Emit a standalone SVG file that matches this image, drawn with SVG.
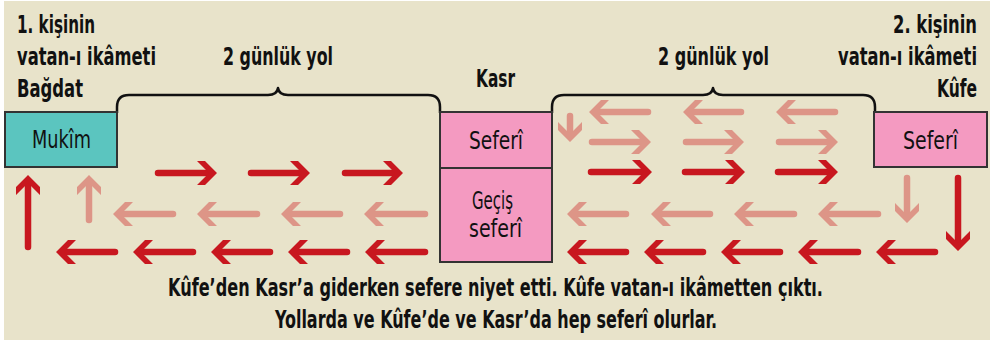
<svg xmlns="http://www.w3.org/2000/svg" xmlns:xlink="http://www.w3.org/1999/xlink" width="990" height="340" viewBox="0 0 990 340">
<style>
  text{font-family:"Liberation Sans Narrow","DejaVu Sans Condensed","Roboto","Liberation Sans",sans-serif;fill:#111;}
  .lb{font-size:25px;font-weight:bold;}
  .bx{font-size:25px;}
  .end{text-anchor:end;}
  .node rect{stroke:#333;stroke-width:2;}
  .brace{fill:none;stroke:#111;stroke-width:2.5;stroke-linejoin:round;}
  .r{fill:#C8171F;stroke:#C8171F;}
  .p{fill:#DD9587;stroke:#DD9587;}
  line.r,line.p{stroke-width:6.5;stroke-linecap:round;}
</style>
<defs>
  <polygon id="hd" points="0,0 -12,-12 -20,-12 -8,0 -20,12 -12,12" stroke="none"/>
</defs>
<rect width="990" height="340" fill="#ffffff"/>
<rect x="4" y="1" width="986" height="339" fill="#E8E3CA"/>

<g id="label-bagdat">
  <text class="lb" x="17" y="33" textLength="78" lengthAdjust="spacingAndGlyphs">1. kişinin</text>
  <text class="lb" x="17" y="65" textLength="139" lengthAdjust="spacingAndGlyphs">vatan-ı ikâmeti</text>
  <text class="lb" x="17" y="97" textLength="66" lengthAdjust="spacingAndGlyphs">Bağdat</text>
</g>
<g id="label-kufe">
  <text class="lb end" x="977" y="33" textLength="84" lengthAdjust="spacingAndGlyphs">2. kişinin</text>
  <text class="lb end" x="977" y="65" textLength="139" lengthAdjust="spacingAndGlyphs">vatan-ı ikâmeti</text>
  <text class="lb end" x="977" y="97" textLength="40" lengthAdjust="spacingAndGlyphs">Kûfe</text>
</g>
<g id="label-kasr">
  <text class="lb" x="476" y="87" textLength="39" lengthAdjust="spacingAndGlyphs">Kasr</text>
</g>
<g id="brace-left">
  <path class="brace" d="M117,113 V107 Q117,95 129,95 H268 Q277,95 278,88 Q279,95 288,95 H428 Q440,95 440,107 V113"/>
  <text class="lb" x="223" y="65" textLength="110" lengthAdjust="spacingAndGlyphs">2 günlük yol</text>
</g>
<g id="brace-right">
  <path class="brace" d="M552,113 V107 Q552,95 564,95 H703 Q712,95 713,88 Q714,95 723,95 H863 Q875,95 875,107 V113"/>
  <text class="lb" x="658" y="65" textLength="111" lengthAdjust="spacingAndGlyphs">2 günlük yol</text>
</g>

<g id="node-mukim" class="node">
  <rect x="5" y="112" width="112" height="55" fill="#5BC5BF"/>
  <text class="bx" x="32" y="148" textLength="59" lengthAdjust="spacingAndGlyphs">Mukîm</text>
</g>
<g id="node-kasr-seferi" class="node">
  <rect x="440" y="112" width="112" height="56" fill="#F49AC1"/>
  <text class="bx" x="469" y="149" textLength="54" lengthAdjust="spacingAndGlyphs">Seferî</text>
</g>
<g id="node-gecis-seferi" class="node">
  <rect x="440" y="168" width="112" height="94" fill="#F49AC1"/>
  <text class="bx" x="472" y="209" textLength="41" lengthAdjust="spacingAndGlyphs">Geçiş</text>
  <text class="bx" x="469" y="237" textLength="53" lengthAdjust="spacingAndGlyphs">seferî</text>
</g>
<g id="node-kufe-seferi" class="node">
  <rect x="874" y="112" width="113" height="55" fill="#F49AC1"/>
  <text class="bx" x="903" y="149" textLength="55" lengthAdjust="spacingAndGlyphs">Seferî</text>
</g>

<g id="connectors">
  <line class="r" x1="158" y1="173" x2="209" y2="173"/><use xlink:href="#hd" class="r" transform="translate(217,173)"/>
  <line class="r" x1="251" y1="173" x2="302" y2="173"/><use xlink:href="#hd" class="r" transform="translate(310,173)"/>
  <line class="r" x1="345" y1="173" x2="395" y2="173"/><use xlink:href="#hd" class="r" transform="translate(403,173)"/>
  <line class="p" x1="173" y1="214" x2="121" y2="214"/><use xlink:href="#hd" class="p" transform="translate(113,214) rotate(180)"/>
  <line class="p" x1="257" y1="214" x2="205" y2="214"/><use xlink:href="#hd" class="p" transform="translate(197,214) rotate(180)"/>
  <line class="p" x1="340" y1="214" x2="289" y2="214"/><use xlink:href="#hd" class="p" transform="translate(281,214) rotate(180)"/>
  <line class="p" x1="425" y1="214" x2="372" y2="214"/><use xlink:href="#hd" class="p" transform="translate(364,214) rotate(180)"/>
  <line class="r" x1="115" y1="252" x2="64" y2="252"/><use xlink:href="#hd" class="r" transform="translate(56,252) rotate(180)"/>
  <line class="r" x1="193" y1="252" x2="141" y2="252"/><use xlink:href="#hd" class="r" transform="translate(133,252) rotate(180)"/>
  <line class="r" x1="270" y1="252" x2="219" y2="252"/><use xlink:href="#hd" class="r" transform="translate(211,252) rotate(180)"/>
  <line class="r" x1="347" y1="252" x2="296" y2="252"/><use xlink:href="#hd" class="r" transform="translate(288,252) rotate(180)"/>
  <line class="r" x1="425" y1="252" x2="373" y2="252"/><use xlink:href="#hd" class="r" transform="translate(365,252) rotate(180)"/>
  <line class="r" x1="28" y1="247" x2="28" y2="183"/><use xlink:href="#hd" class="r" transform="translate(28,175) rotate(-90)"/>
  <line class="p" x1="89" y1="220" x2="89" y2="183"/><use xlink:href="#hd" class="p" transform="translate(89,175) rotate(-90)"/>

  <line class="p" x1="648" y1="112" x2="597" y2="112"/><use xlink:href="#hd" class="p" transform="translate(589,112) rotate(180)"/>
  <line class="p" x1="741" y1="112" x2="691" y2="112"/><use xlink:href="#hd" class="p" transform="translate(683,112) rotate(180)"/>
  <line class="p" x1="835" y1="112" x2="784" y2="112"/><use xlink:href="#hd" class="p" transform="translate(776,112) rotate(180)"/>
  <line class="p" x1="592" y1="142" x2="643" y2="142"/><use xlink:href="#hd" class="p" transform="translate(651,142)"/>
  <line class="p" x1="686" y1="142" x2="736" y2="142"/><use xlink:href="#hd" class="p" transform="translate(744,142)"/>
  <line class="p" x1="779" y1="142" x2="830" y2="142"/><use xlink:href="#hd" class="p" transform="translate(838,142)"/>
  <line class="r" x1="591" y1="172" x2="644" y2="172"/><use xlink:href="#hd" class="r" transform="translate(652,172)"/>
  <line class="r" x1="685" y1="172" x2="737" y2="172"/><use xlink:href="#hd" class="r" transform="translate(745,172)"/>
  <line class="r" x1="778" y1="172" x2="830" y2="172"/><use xlink:href="#hd" class="r" transform="translate(838,172)"/>
  <line class="p" x1="570" y1="116" x2="570" y2="134"/><use xlink:href="#hd" class="p" transform="translate(570,142) rotate(90)"/>
  <line class="p" x1="626" y1="214" x2="575" y2="214"/><use xlink:href="#hd" class="p" transform="translate(567,214) rotate(180)"/>
  <line class="p" x1="710" y1="214" x2="659" y2="214"/><use xlink:href="#hd" class="p" transform="translate(651,214) rotate(180)"/>
  <line class="p" x1="794" y1="214" x2="742" y2="214"/><use xlink:href="#hd" class="p" transform="translate(734,214) rotate(180)"/>
  <line class="p" x1="878" y1="214" x2="826" y2="214"/><use xlink:href="#hd" class="p" transform="translate(818,214) rotate(180)"/>
  <line class="r" x1="626" y1="252" x2="575" y2="252"/><use xlink:href="#hd" class="r" transform="translate(567,252) rotate(180)"/>
  <line class="r" x1="703" y1="252" x2="652" y2="252"/><use xlink:href="#hd" class="r" transform="translate(644,252) rotate(180)"/>
  <line class="r" x1="780" y1="252" x2="729" y2="252"/><use xlink:href="#hd" class="r" transform="translate(721,252) rotate(180)"/>
  <line class="r" x1="858" y1="252" x2="806" y2="252"/><use xlink:href="#hd" class="r" transform="translate(798,252) rotate(180)"/>
  <line class="r" x1="935" y1="252" x2="884" y2="252"/><use xlink:href="#hd" class="r" transform="translate(876,252) rotate(180)"/>
  <line class="p" x1="907" y1="178" x2="907" y2="215"/><use xlink:href="#hd" class="p" transform="translate(907,223) rotate(90)"/>
  <line class="r" x1="958" y1="178" x2="958" y2="243"/><use xlink:href="#hd" class="r" transform="translate(958,251) rotate(90)"/>
</g>

<g id="caption">
  <text class="lb" x="168" y="296" textLength="655" lengthAdjust="spacingAndGlyphs">Kûfe’den Kasr’a giderken sefere niyet etti. Kûfe vatan-ı ikâmetten çıktı.</text>
  <text class="lb" x="275" y="328" textLength="442" lengthAdjust="spacingAndGlyphs">Yollarda ve Kûfe’de ve Kasr’da hep seferî olurlar.</text>
</g>
</svg>
